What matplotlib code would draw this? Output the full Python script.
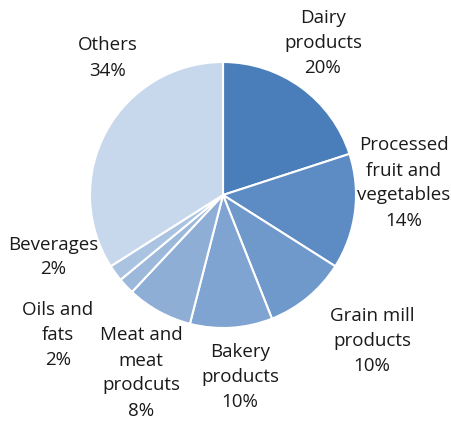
import matplotlib.pyplot as plt

labels = ["Dairy\nproducts", "Processed\nfruit and\nvegetables", "Grain mill\nproducts",
          "Bakery\nproducts", "Meat and\nmeat\nprodcuts", "Oils and\nfats", "Beverages", "Others"]
shares = [20, 14, 10, 10, 8, 2, 2, 34]
colors = ["#4a7ebb", "#5d8bc4", "#6f98cb", "#7fa4d1", "#8eaed6", "#9cb9dc", "#a9c3e1", "#c8d8ec"]

# label block centres, in pixels of the 452x421 canvas
label_px = [(323, 43), (404, 183), (372, 341), (240, 377),
            (141, 373), (58, 335), (53, 257), (108, 58)]

W, H = 452, 421
cx, cy, r = 223, 195, 133

fig = plt.figure(figsize=(W / 100, H / 100), dpi=100)
ax = fig.add_axes([(cx - r) / W, (H - cy - r) / H, 2 * r / W, 2 * r / H])

ax.pie(shares, colors=colors, startangle=90, counterclock=False, radius=1,
       wedgeprops=dict(edgecolor="white", linewidth=1.5))
ax.set_xlim(-1, 1)
ax.set_ylim(-1, 1)
ax.axis("off")

for lab, val, (px, py) in zip(labels, shares, label_px):
    ax.text((px - cx) / r, (cy - py) / r, f"{lab}\n{val}%", ha="center", va="center",
            fontsize=13.5, family="Open Sans", color="#1a1a1a", linespacing=1.5,
            clip_on=False)

fig.savefig("out.png", dpi=100)
